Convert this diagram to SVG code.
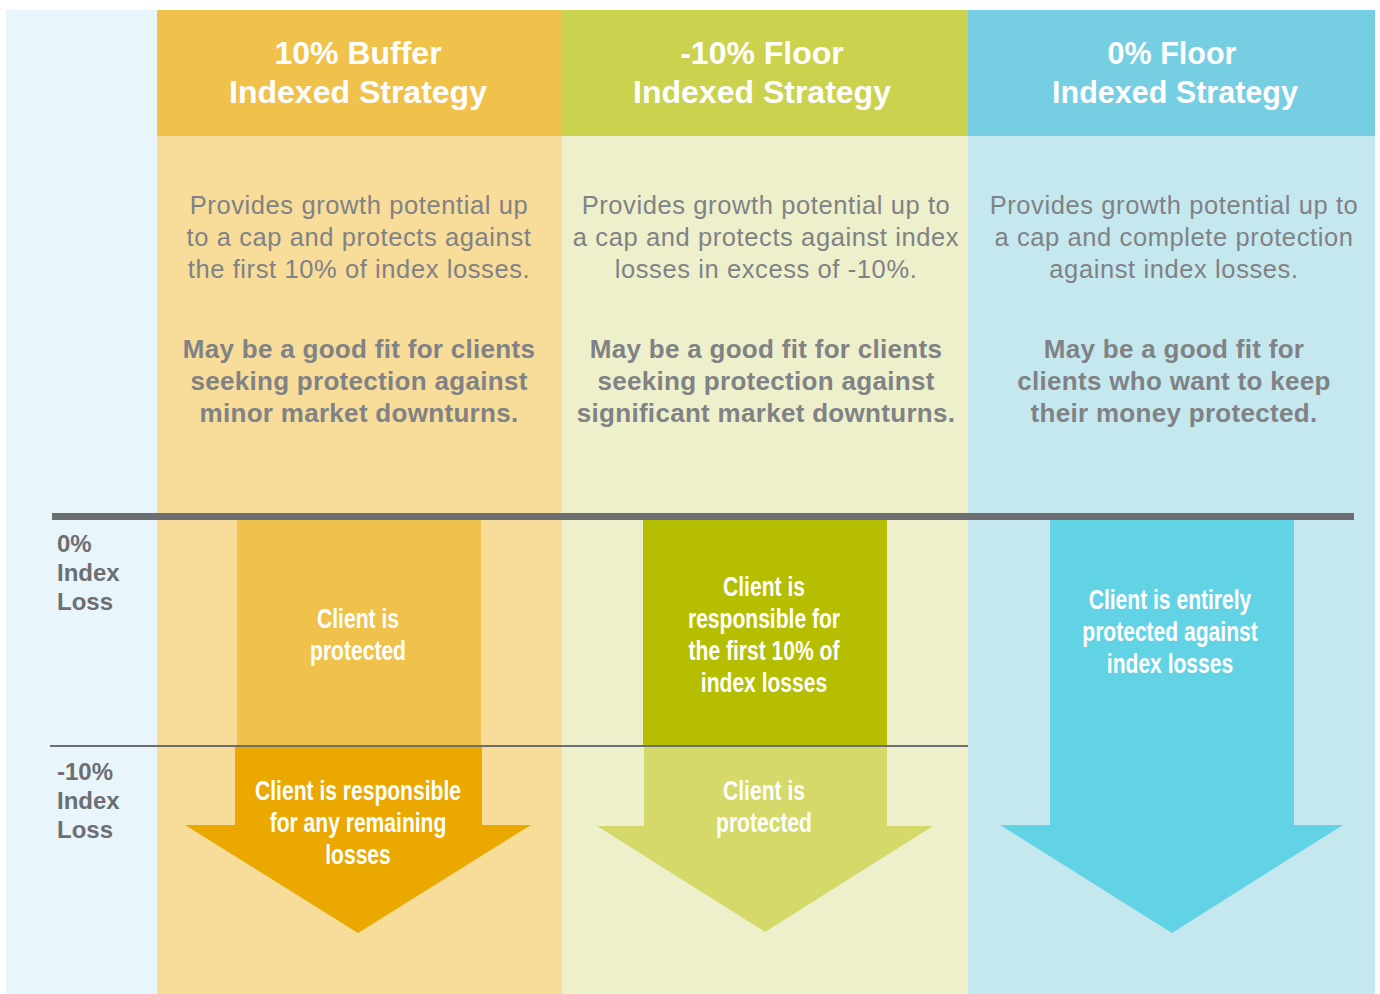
<svg xmlns="http://www.w3.org/2000/svg" width="1380" height="994" viewBox="0 0 1380 994">
<style>
.hdr{font-family:"Liberation Sans",Arial,sans-serif;font-weight:bold;font-size:32px;fill:#fff;text-anchor:middle}
.hdr3{font-size:30.5px}
.desc{font-family:"Liberation Sans",Arial,sans-serif;font-size:25.5px;letter-spacing:0.6px;fill:#808285;text-anchor:middle}
.fit{font-family:"Liberation Sans",Arial,sans-serif;font-weight:bold;font-size:26px;letter-spacing:0.3px;fill:#808285;text-anchor:middle}
.lbl{font-family:"Liberation Sans",Arial,sans-serif;font-weight:bold;font-size:24px;fill:#6d6e71}
.arr{font-family:"Liberation Sans",Arial,sans-serif;font-weight:bold;font-size:27px;fill:#fff;text-anchor:middle}
</style>
<rect width="1380" height="994" fill="#fff"/>
<g id="left-panel">
<rect x="6" y="10" width="151" height="984" fill="#e8f5fa"/>
<text class="lbl" x="57" y="552">0%</text>
<text class="lbl" x="57" y="581">Index</text>
<text class="lbl" x="57" y="610">Loss</text>
<text class="lbl" x="57" y="780">-10%</text>
<text class="lbl" x="57" y="809">Index</text>
<text class="lbl" x="57" y="838">Loss</text>
</g>
<g id="col-buffer">
<rect x="157" y="10" width="405" height="984" fill="#f7dc9a"/>
<rect x="157" y="10" width="405" height="126" fill="#f0c24c"/>
<text class="hdr" x="358" y="64">10% Buffer</text>
<text class="hdr" x="358" y="103">Indexed Strategy</text>
<text class="desc" x="359" y="214">Provides growth potential up</text>
<text class="desc" x="359" y="246">to a cap and protects against</text>
<text class="desc" x="359" y="278">the first 10% of index losses.</text>
<text class="fit" x="359" y="358">May be a good fit for clients</text>
<text class="fit" x="359" y="390">seeking protection against</text>
<text class="fit" x="359" y="422">minor market downturns.</text>
</g>
<g id="col-floor10">
<rect x="562" y="10" width="406" height="984" fill="#eef0cc"/>
<rect x="562" y="10" width="406" height="126" fill="#cbd24e"/>
<text class="hdr" x="762" y="64">-10% Floor</text>
<text class="hdr" x="762" y="103">Indexed Strategy</text>
<text class="desc" x="766" y="214">Provides growth potential up to</text>
<text class="desc" x="766" y="246">a cap and protects against index</text>
<text class="desc" x="766" y="278">losses in excess of -10%.</text>
<text class="fit" x="766" y="358">May be a good fit for clients</text>
<text class="fit" x="766" y="390">seeking protection against</text>
<text class="fit" x="766" y="422">significant market downturns.</text>
</g>
<g id="col-floor0">
<rect x="968" y="10" width="407" height="984" fill="#c5e8ef"/>
<rect x="968" y="10" width="407" height="126" fill="#76cee2"/>
<text class="hdr hdr3" x="1172" y="64">0% Floor</text>
<text class="hdr hdr3" x="1175" y="103">Indexed Strategy</text>
<text class="desc" x="1174" y="214">Provides growth potential up to</text>
<text class="desc" x="1174" y="246">a cap and complete protection</text>
<text class="desc" x="1174" y="278">against index losses.</text>
<text class="fit" x="1174" y="358">May be a good fit for</text>
<text class="fit" x="1174" y="390">clients who want to keep</text>
<text class="fit" x="1174" y="422">their money protected.</text>
</g>
<g id="arrow-buffer">
<rect x="237" y="520" width="244" height="226" fill="#f0c24c"/>
<polygon points="235,746 482,746 482,825 531,825 358,933 185,825 235,825" fill="#eaa800"/>
<text class="arr" transform="translate(358,628) scale(0.78,1)">Client is</text>
<text class="arr" transform="translate(358,660) scale(0.78,1)">protected</text>
<text class="arr" transform="translate(358,800) scale(0.78,1)">Client is responsible</text>
<text class="arr" transform="translate(358,832) scale(0.78,1)">for any remaining</text>
<text class="arr" transform="translate(358,864) scale(0.78,1)">losses</text>
</g>
<g id="arrow-floor10">
<rect x="643" y="520" width="244" height="226" fill="#b5be00"/>
<polygon points="644,746 887,746 887,826 933,826 765,932 597,826 644,826" fill="#d4d96a"/>
<text class="arr" transform="translate(764,596) scale(0.78,1)">Client is</text>
<text class="arr" transform="translate(764,628) scale(0.78,1)">responsible for</text>
<text class="arr" transform="translate(764,660) scale(0.78,1)">the first 10% of</text>
<text class="arr" transform="translate(764,692) scale(0.78,1)">index losses</text>
<text class="arr" transform="translate(764,800) scale(0.78,1)">Client is</text>
<text class="arr" transform="translate(764,832) scale(0.78,1)">protected</text>
</g>
<g id="arrow-floor0">
<polygon points="1050,520 1294,520 1294,825 1343,825 1172,933 1000,825 1050,825" fill="#62d3e5"/>
<text class="arr" transform="translate(1170,609) scale(0.78,1)">Client is entirely</text>
<text class="arr" transform="translate(1170,641) scale(0.78,1)">protected against</text>
<text class="arr" transform="translate(1170,673) scale(0.78,1)">index losses</text>
</g>
<g id="connectors">
<rect x="52" y="513" width="1302" height="7" fill="#6d6e71"/>
<rect x="50" y="745" width="918" height="2" fill="#6d6e71"/>
</g>
</svg>
